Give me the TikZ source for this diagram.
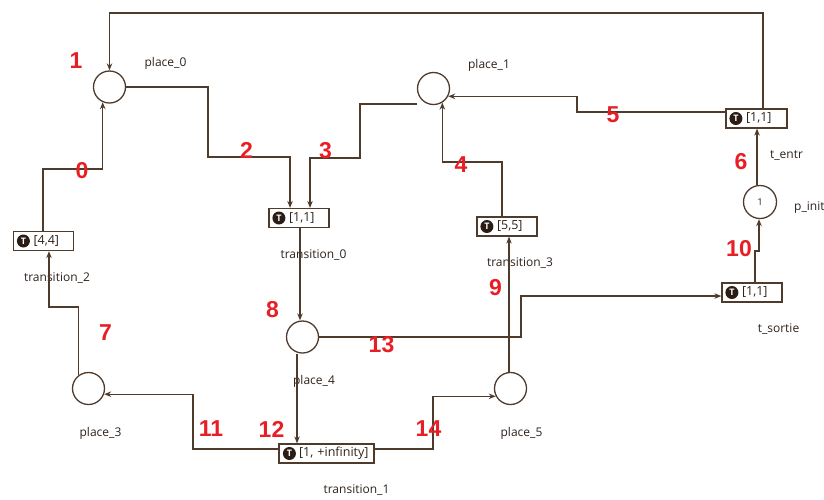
\documentclass[tikz,border=0pt]{standalone}
\usepackage{fontspec}
\setmainfont{Open Sans}
\newfontfamily\numfont{Liberation Sans}
\usetikzlibrary{arrows.meta}
\definecolor{edge}{HTML}{4E3B2C}
\definecolor{txt}{HTML}{2E221A}
\definecolor{numred}{HTML}{E81E25}
\definecolor{icondark}{HTML}{2B1D14}
\begin{document}
\begin{tikzpicture}[x=1pt,y=-1pt,
  place/.style={circle,draw=edge,line width=1.3pt,minimum size=32pt,inner sep=0pt,font=\fontsize{9.5}{10}\selectfont,text=txt},
  trans/.style={rectangle,draw=edge,line width=1.2pt,minimum height=19pt,inner xsep=0pt,inner ysep=0pt,align=left,font=\fontsize{12.5}{14}\selectfont,text=txt},
  ticon/.style={circle,fill=icondark,draw=none,text=white,inner sep=0pt,minimum size=13pt,font=\fontsize{9}{10}\selectfont\bfseries},
  lbl/.style={font=\fontsize{12}{14}\selectfont,text=txt,inner sep=0pt},
  num/.style={font=\numfont\bfseries\fontsize{23}{26}\selectfont,text=numred,inner sep=0pt},
  arc/.style={draw=edge,line width=1.3pt,-{Stealth[length=7pt,width=5.5pt]}}]
\useasboundingbox (0,0) rectangle (824,499);

% places
\node[place] (p0) at (109.5,87) {};
\node[place] (p1) at (433.5,88.5) {};
\node[place,minimum size=33pt] (pi) at (760,202) {1};
\node[place] (p4) at (302.5,337) {};
\node[place] (p3) at (88.5,388.5) {};
\node[place] (p5) at (510.5,388.5) {};

% transitions
\node[trans,text width=60pt] (t0) at (299,218) {\hspace*{20pt}[1,1]};
\node[trans,text width=60pt] (t2) at (43.5,241) {\hspace*{20pt}[4,4]};
\node[trans,text width=61pt] (te) at (756.5,118.5) {\hspace*{20pt}[1,1]};
\node[trans,text width=60pt] (tr3) at (507,226.5) {\hspace*{20pt}[5,5]};
\node[trans,text width=60pt] (ts) at (752,292.5) {\hspace*{20pt}[1,1]};
\node[trans,text width=95pt] (t1) at (326.5,453.5) {\hspace*{20pt}[1, +infinity]};

\node[ticon] (t0i) at ([xshift=10.5pt]t0.west) {T};
\node[ticon] (t2i) at ([xshift=10.5pt]t2.west) {T};
\node[ticon] (tei) at ([xshift=10.5pt]te.west) {T};
\node[ticon] (tr3i) at ([xshift=10.5pt]tr3.west) {T};
\node[ticon] (tsi) at ([xshift=10.5pt]ts.west) {T};
\node[ticon] (t1i) at ([xshift=11pt]t1.west) {T};

% labels
\node[lbl] (l0) at (165.5,63) {place\_0};
\node[lbl] (l1) at (489,65) {place\_1};
\node[lbl] (lte) at (786.5,155) {t\_entr};
\node[lbl,anchor=west] (lpi) at (794,208) {p\_init};
\node[lbl] (lt0) at (313.5,255) {transition\_0};
\node[lbl] (ltr3) at (520,263) {transition\_3};
\node[lbl] (lt2) at (57,278) {transition\_2};
\node[lbl] (lts) at (778.5,329) {t\_sortie};
\node[lbl] (l4) at (314,381) {place\_4};
\node[lbl] (l3) at (100.5,433) {place\_3};
\node[lbl] (l5) at (521.5,433) {place\_5};
\node[lbl] (lt1) at (356.5,490) {transition\_1};

% arcs
\draw[arc] (t2.north -| 43,0) |- (p0.-114 |- 0,169) -- (p0.-114);
\draw[arc] (te.north -| 763,0) |- (p0.north |- 0,13) -- (p0.north);
\draw[arc] (p0.east) -| (208,157) -| (t0.north -| 290,0);
\draw[arc] (p1.west |- 0,104) -| (360,158) -| (t0.north -| 310,0);
\draw[arc] (tr3.north -| 502,0) |- (p1.-58 |- 0,162) -- (p1.-58);
\draw[arc] (te.west |- 0,112) -| (p1.-28 -| 577,0) -- (p1.-28);
\draw[arc] (pi.north -| 757,0) -- (te.south -| 757,0);
\draw[arc] (ts.north -| 755,0) |- (759,251) -- (pi.south -| 759,0);
\draw[arc] (p3.126) |- (49,307) -- (t2.south -| 49,0);
\draw[arc] (t0.south -| 300,0) -- (p4.north -| 300,0);
\draw[arc] (p5.north -| 509,0) -- (tr3.south -| 509,0);
\draw[arc] (p4.east) -| (521,296) -- (ts.west |- 0,296);
\draw[arc] (t1.west |- 0,449) -| (p3.-20 -| 193,0) -- (p3.-20);
\draw[arc] (p4.south -| 297,0) -- (t1.north -| 297,0);
\draw[arc] (t1.east |- 0,449) -| (p5.208 -| 433,0) -- (p5.208);

% numbers
\node[num] (n0) at (82,171) {0};
\node[num] (n1) at (76,60.5) {1};
\node[num] (n2) at (246.5,150.5) {2};
\node[num] (n3) at (325.5,150.5) {3};
\node[num] (n4) at (461,165) {4};
\node[num] (n5) at (613,114.5) {5};
\node[num] (n6) at (741,161.5) {6};
\node[num] (n7) at (105.5,333) {7};
\node[num] (n8) at (272.5,310) {8};
\node[num] (n9) at (495.5,287.5) {9};
\node[num] (n10) at (739,249) {10};
\node[num] (n11) at (211,429) {11};
\node[num] (n12) at (271.5,429) {12};
\node[num] (n13) at (381.5,344.5) {13};
\node[num] (n14) at (428.5,429) {14};
\end{tikzpicture}
\end{document}
